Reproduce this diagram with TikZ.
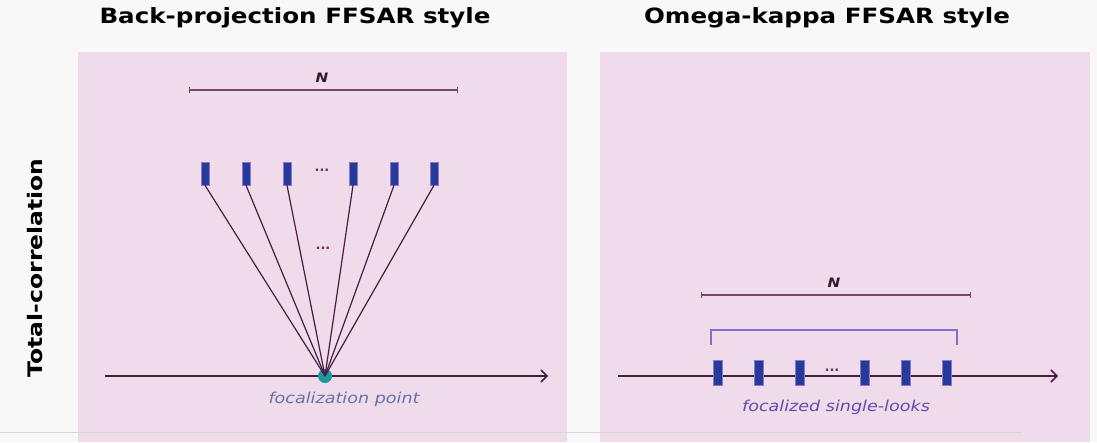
\documentclass[tikz,border=0pt]{standalone}
\usepackage{fontspec}
\setmainfont{DejaVu Sans}
\newfontfamily\verd[FakeStretch=1.17]{DejaVu Sans}
\usetikzlibrary{arrows.meta}
\definecolor{bgc}{RGB}{248,248,248}
\definecolor{panel}{RGB}{239,219,234}
\definecolor{linec}{RGB}{70,30,65}
\definecolor{barc}{RGB}{120,70,110}
\definecolor{dotc}{RGB}{120,40,110}
\definecolor{rectc}{RGB}{38,58,155}
\definecolor{rectb}{RGB}{140,120,200}
\definecolor{tealc}{RGB}{30,150,155}
\definecolor{fptext}{RGB}{100,115,170}
\definecolor{fltext}{RGB}{100,75,175}
\definecolor{brk}{RGB}{135,110,200}
\definecolor{grayl}{RGB}{215,215,215}
\tikzset{
  title/.style={font=\verd\bfseries\fontsize{21}{25}\selectfont, text=black, inner sep=0pt},
  sidetitle/.style={font=\verd\bfseries\fontsize{20}{24}\selectfont, text=black, inner sep=0pt},
  look/.style={draw=rectb, line width=0.5pt, fill=rectc, minimum width=8pt, minimum height=23pt, inner sep=0pt},
  ray/.style={draw=linec, line width=1.2pt},
  axis/.style={draw=linec, line width=1.5pt, -{Straight Barb[length=6pt,width=12pt,line width=1.5pt]}},
  nbar/.style={draw=barc, line width=1.5pt, {Bar[width=6pt,line width=1pt]}-{Bar[width=6pt,line width=1pt]}},
  nlabel/.style={font=\verd\bfseries\itshape\fontsize{13}{15}\selectfont, text=linec!80!black, inner sep=0pt},
  dots/.style={font=\bfseries\fontsize{13}{15}\selectfont, text=dotc, inner sep=0pt},
  captext/.style={font=\verd\itshape\fontsize{15}{18}\selectfont, inner sep=0pt},
}
\begin{document}
\begin{tikzpicture}[x=1pt,y=-1pt]
\useasboundingbox (0,0) rectangle (1097,442);
\fill[bgc] (0,0) rectangle (1097,442);
\fill[panel] (78,52) rectangle (567,442);
\fill[panel] (600,52) rectangle (1090,442);
\draw[grayl, line width=1pt] (0,432.5) -- (1022,432.5);

% titles
\node[title] (t1) at (295,18) {Back-projection FFSAR style};
\node[title] (t2) at (827,18) {Omega-kappa FFSAR style};
\node[sidetitle, rotate=90] (t3) at (35,268) {Total-correlation};

% left panel
\coordinate (nl1) at (189,90);
\coordinate (nl2) at (458,90);
\draw[nbar] (nl1) -- (nl2);
\node[nlabel] (nL) at (322,78) {N};

\node[look] (a1) at (205,173.5) {};
\node[look] (a2) at (246,173.5) {};
\node[look] (a3) at (287,173.5) {};
\node[dots] (ad) at (322,170) {...};
\node[look] (a4) at (353,173.5) {};
\node[look] (a5) at (394,173.5) {};
\node[look] (a6) at (434,173.5) {};
\node[dots] (md) at (323,248) {...};

\coordinate (lx1) at (105,376);
\coordinate (lx2) at (548,376);
\draw[axis] (lx1) -- (lx2);
\node[circle, fill=tealc, minimum size=14pt, inner sep=0pt] (fp) at (325,376) {};
\foreach \i in {1,...,6} \draw[ray] (a\i.south) -- (fp.center);
\node[captext, text=fptext] (fpl) at (344,399) {focalization point};

% right panel
\coordinate (nr1) at (701,295);
\coordinate (nr2) at (971,295);
\draw[nbar] (nr1) -- (nr2);
\node[nlabel] (nR) at (834,283) {N};
\coordinate (b1) at (711,345);
\coordinate (b2) at (957,345);
\draw[brk, line width=1.4pt] (b1) -- ++(0,-15) -| (b2);

\coordinate (rx1) at (618,376);
\coordinate (rx2) at (1058,376);
\draw[axis] (rx1) -- (rx2);
\node[look, minimum width=9pt, minimum height=25pt] (s1) at (718,373) {};
\node[look, minimum width=9pt, minimum height=25pt] (s2) at (759,373) {};
\node[look, minimum width=9pt, minimum height=25pt] (s3) at (800,373) {};
\node[dots] (sd) at (832,370) {...};
\node[look, minimum width=9pt, minimum height=25pt] (s4) at (865,373) {};
\node[look, minimum width=9pt, minimum height=25pt] (s5) at (906,373) {};
\node[look, minimum width=9pt, minimum height=25pt] (s6) at (947,373) {};
\node[captext, text=fltext] (fsl) at (836,407) {focalized single-looks};
\end{tikzpicture}
\end{document}
